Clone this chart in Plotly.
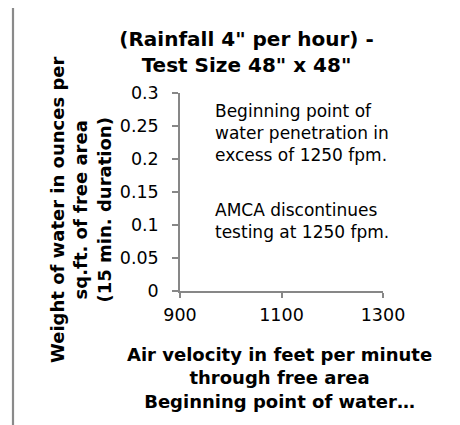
import plotly.graph_objects as go

# ---- data (chart has no plotted series; only axes and notes) ----
x_values = []
y_values = []
x_tick_values = [900, 1100, 1300]
x_tick_labels = ["900", "1100", "1300"]
y_tick_values = [0, 0.05, 0.1, 0.15, 0.2, 0.25, 0.3]
y_tick_labels = ["0", "0.05", "0.1", "0.15", "0.2", "0.25", "0.3"]
x_range = [900, 1300]
y_range = [0, 0.3]

title_text = "(Rainfall 4\" per hour) -<br>Test Size 48\" x 48\""
x_title_text = "Air velocity in feet per minute<br>through free area<br>Beginning point of water…"
y_title_text = "Weight of water in ounces per<br>sq.ft. of free area<br>(15 min. duration)"
note_lines_1 = ["Beginning point of", "water penetration in", "excess of 1250 fpm."]
note_lines_2 = ["AMCA discontinues", "testing at 1250 fpm."]

# page body has an 8px margin: work in window pixels, then shift
OFF = 8
W, H = 460 - OFF, 425 - OFF
PL, PR, PT, PB = 180, 383, 93, 291  # plot area in window pixels
L, T = PL - OFF, PT - OFF
R, B = W - (PR - OFF), H - (PB - OFF)
PW, PH = PR - PL, PB - PT

def px(x):
    return (x - PL) / PW

def py(y):
    return 1 - (y - PT) / PH

FONT = "DejaVu Sans"
AXIS_COLOR = "#878787"

fig = go.Figure()
fig.add_trace(go.Scatter(x=x_values, y=y_values, mode="lines", showlegend=False))

fig.update_layout(
    width=W, height=H,
    margin=dict(l=L, r=R, t=T, b=B),
    paper_bgcolor="white", plot_bgcolor="white",
    showlegend=False,
    font=dict(family=FONT, color="#000000"),
    title=dict(text="<b>" + title_text + "</b>",
               x=(246.5 - OFF) / W, y=1 - (46 - OFF) / H,
               xanchor="center", yanchor="middle", xref="container", yref="container",
               font=dict(family=FONT, size=20, color="#000000")),
)

fig.update_xaxes(
    range=x_range, tickvals=x_tick_values, ticktext=x_tick_labels,
    showgrid=False, zeroline=False, showline=True, linecolor=AXIS_COLOR, linewidth=1.5,
    ticks="outside", ticklen=5, tickwidth=1.5, tickcolor=AXIS_COLOR,
    tickfont=dict(family=FONT, size=17.5, color="#000000"),
    ticklabelstandoff=2, automargin=False, fixedrange=True,
)
fig.update_yaxes(
    range=y_range, tickvals=y_tick_values, ticktext=y_tick_labels,
    showgrid=False, zeroline=False, showline=True, linecolor=AXIS_COLOR, linewidth=1.5,
    ticks="outside", ticklen=6, tickwidth=1.5, tickcolor=AXIS_COLOR,
    tickfont=dict(family=FONT, size=17.5, color="#000000"),
    ticklabelstandoff=10, automargin=False, fixedrange=True,
)

ann = []
# x-axis title
ann.append(dict(text="<b>" + x_title_text + "</b>", xref="paper", yref="paper",
                x=px(279), y=py(378), xanchor="center", yanchor="middle",
                showarrow=False, align="center",
                font=dict(family=FONT, size=18, color="#000000")))
# y-axis title
ann.append(dict(text="<b>" + y_title_text + "</b>", xref="paper", yref="paper",
                x=px(81), y=py(210), xanchor="center", yanchor="middle",
                showarrow=False, align="center", textangle=-90,
                font=dict(family=FONT, size=18, color="#000000")))
# notes
ann.append(dict(text="<br>".join(note_lines_1), xref="paper", yref="paper",
                x=px(213), y=py(133), xanchor="left", yanchor="middle", align="left",
                showarrow=False, font=dict(family=FONT, size=17, color="#000000")))
ann.append(dict(text="<br>".join(note_lines_2), xref="paper", yref="paper",
                x=px(213), y=py(221), xanchor="left", yanchor="middle", align="left",
                showarrow=False, font=dict(family=FONT, size=17, color="#000000")))
fig.update_layout(annotations=ann)

# chart-area border (cropped: visible at top and left)
BORDER = "#8a8a8a"
fig.add_shape(type="line", xref="paper", yref="paper",
              x0=px(13), y0=py(3.5), x1=px(470), y1=py(3.5),
              line=dict(color=BORDER, width=2.2))
fig.add_shape(type="line", xref="paper", yref="paper",
              x0=px(13), y0=py(3.5), x1=px(13), y1=py(440),
              line=dict(color=BORDER, width=2.2))

fig.write_html("out.html", config={"displayModeBar": False})
